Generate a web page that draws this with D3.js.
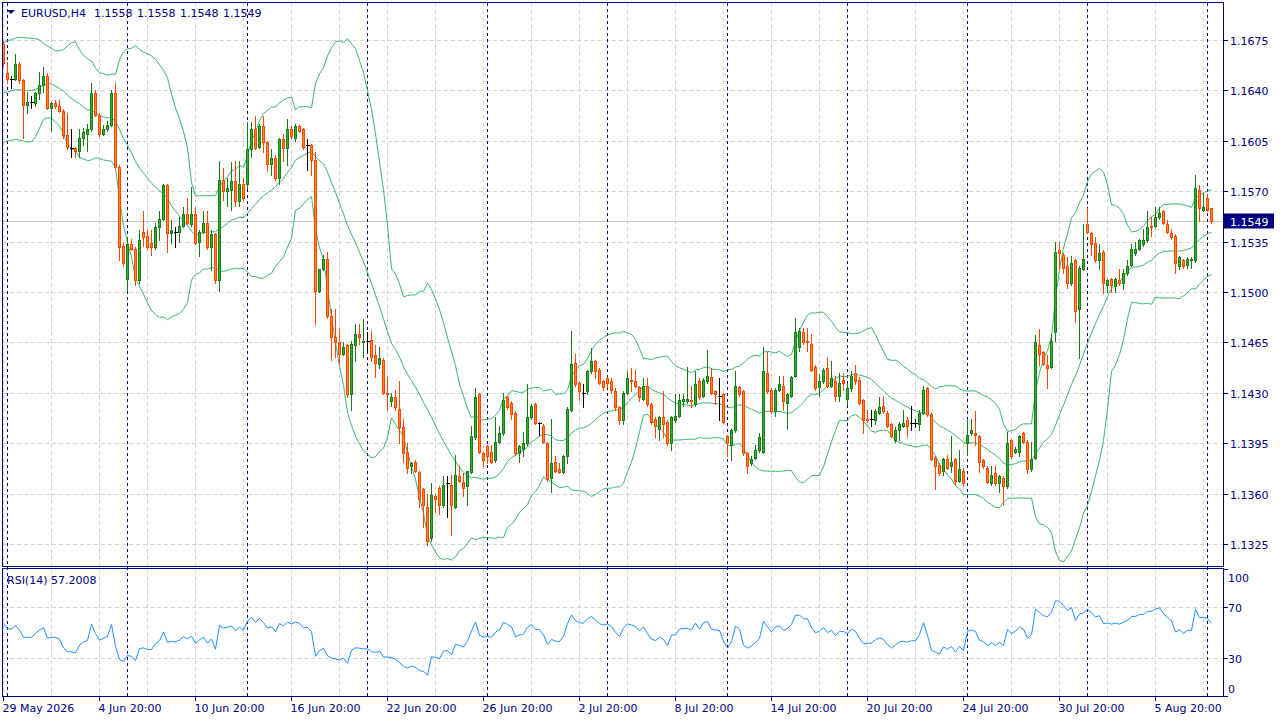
<!DOCTYPE html>
<html><head><meta charset="utf-8">
<script src="https://cdn.jsdelivr.net/npm/d3@7"></script>
<style>
html,body{margin:0;padding:0;background:#fff;overflow:hidden}
svg{display:block;font-family:"DejaVu Sans",sans-serif;font-size:11px}
</style>
</head><body>
<svg id="chart" width="1280" height="720"></svg>
<script>
const symbolLabel = "EURUSD,H4";
const open = [
1.1672,1.1652,1.1648,1.1648,1.1658,1.1647,1.1630,1.1632,1.1631,1.1638,
1.1644,1.1650,1.1628,1.1631,1.1629,1.1626,1.1609,1.1600,1.1600,1.1598,
1.1607,1.1610,1.1613,1.1638,1.1623,1.1610,1.1613,1.1616,1.1638,1.1587,
1.1532,1.1509,1.1533,1.1530,1.1508,1.1542,1.1539,1.1534,1.1531,1.1545,
1.1551,1.1574,1.1541,1.1542,1.1542,1.1546,1.1554,1.1547,1.1554,1.1535,
1.1542,1.1548,1.1531,1.1540,1.1508,1.1578,1.1570,1.1571,1.1577,1.1563,
1.1575,1.1575,1.1599,1.1613,1.1601,1.1615,1.1604,1.1589,1.1593,1.1579,
1.1606,1.1600,1.1613,1.1607,1.1615,1.1613,1.1602,1.1602,1.1592,1.1501,
1.1516,1.1523,1.1483,1.1469,1.1465,1.1457,1.1463,1.1429,1.1463,1.1471,
1.1465,1.1466,1.1467,1.1456,1.1450,1.1453,1.1430,1.1424,1.1427,1.1419,
1.1406,1.1389,1.1379,1.1382,1.1375,1.1363,1.1351,1.1329,1.1358,1.1364,
1.1352,1.1367,1.1366,1.1351,1.1372,1.1368,1.1365,1.1375,1.1399,1.1429,
1.1388,1.1393,1.1389,1.1383,1.1396,1.1402,1.1427,1.1423,1.1416,1.1388,
1.1391,1.1395,1.1413,1.1422,1.1409,1.1407,1.1395,1.1371,1.1382,1.1377,
1.1375,1.1386,1.1418,1.1451,1.1437,1.1430,1.1431,1.1445,1.1452,1.1446,
1.1438,1.1440,1.1438,1.1431,1.1420,1.1411,1.1430,1.1439,1.1438,1.1434,
1.1426,1.1435,1.1422,1.1412,1.1405,1.1413,1.1410,1.1395,1.1411,1.1414,
1.1424,1.1424,1.1425,1.1422,1.1438,1.1428,1.1438,1.1441,1.1431,1.1428,
1.1429,1.1400,1.1394,1.1404,1.1434,1.1431,1.1388,1.1381,1.1385,1.1390,
1.1389,1.1444,1.1432,1.1417,1.1432,1.1435,1.1423,1.1428,1.1442,1.1462,
1.1472,1.1466,1.1464,1.1448,1.1434,1.1438,1.1447,1.1435,1.1438,1.1428,
1.1439,1.1426,1.1433,1.1444,1.1439,1.1425,1.1412,1.1412,1.1411,1.1416,
1.1421,1.1416,1.1408,1.1397,1.1404,1.1407,1.1411,1.1409,1.1409,1.1408,
1.1416,1.1433,1.1415,1.1385,1.1380,1.1376,1.1384,1.1379,1.1384,1.1369,
1.1376,1.1395,1.1402,1.1402,1.1400,1.1383,1.1378,1.1367,1.1374,1.1367,
1.1371,1.1365,1.1397,1.1389,1.1389,1.1402,1.1396,1.1377,1.1385,1.1463,
1.1458,1.1449,1.1448,1.1472,1.1529,1.1526,1.1518,1.1506,1.1522,1.1488,
1.1516,1.1547,1.1541,1.1534,1.1522,1.1528,1.1505,1.1509,1.1504,1.1508,
1.1506,1.1513,1.1519,1.1527,1.1530,1.1533,1.1536,1.1546,1.1546,1.1552,
1.1556,1.1547,1.1541,1.1539,1.1518,1.1522,1.1519,1.1522,1.1522,1.1571,
1.1557,1.1565,1.1558];
const high = [
1.1674,1.1660,1.1650,1.1665,1.1660,1.1648,1.1639,1.1636,1.1639,1.1653,
1.1656,1.1652,1.1632,1.1633,1.1633,1.1627,1.1624,1.1613,1.1601,1.1613,
1.1614,1.1617,1.1645,1.1640,1.1624,1.1616,1.1619,1.1640,1.1645,1.1588,
1.1534,1.1538,1.1537,1.1531,1.1543,1.1556,1.1543,1.1543,1.1548,1.1556,
1.1575,1.1575,1.1550,1.1545,1.1552,1.1559,1.1565,1.1573,1.1559,1.1543,
1.1556,1.1556,1.1543,1.1541,1.1591,1.1586,1.1579,1.1590,1.1591,1.1591,
1.1579,1.1618,1.1618,1.1622,1.1617,1.1622,1.1605,1.1599,1.1595,1.1607,
1.1610,1.1620,1.1615,1.1617,1.1616,1.1614,1.1606,1.1603,1.1597,1.1516,
1.1526,1.1528,1.1488,1.1488,1.1474,1.1465,1.1464,1.1466,1.1478,1.1478,
1.1481,1.1472,1.1473,1.1463,1.1462,1.1454,1.1441,1.1430,1.1432,1.1438,
1.1412,1.1395,1.1382,1.1383,1.1376,1.1364,1.1360,1.1367,1.1360,1.1365,
1.1372,1.1372,1.1373,1.1387,1.1379,1.1374,1.1376,1.1407,1.1433,1.1430,
1.1389,1.1394,1.1394,1.1413,1.1407,1.1430,1.1428,1.1424,1.1417,1.1394,
1.1403,1.1436,1.1422,1.1423,1.1410,1.1408,1.1396,1.1412,1.1386,1.1381,
1.1387,1.1420,1.1473,1.1457,1.1438,1.1436,1.1446,1.1461,1.1453,1.1447,
1.1439,1.1441,1.1440,1.1433,1.1421,1.1431,1.1445,1.1447,1.1446,1.1435,
1.1440,1.1440,1.1423,1.1413,1.1414,1.1431,1.1411,1.1414,1.1429,1.1429,
1.1429,1.1448,1.1435,1.1445,1.1440,1.1440,1.1460,1.1447,1.1432,1.1440,
1.1430,1.1401,1.1405,1.1445,1.1435,1.1432,1.1389,1.1386,1.1394,1.1402,
1.1462,1.1458,1.1433,1.1433,1.1442,1.1442,1.1430,1.1442,1.1482,1.1475,
1.1475,1.1475,1.1471,1.1449,1.1443,1.1447,1.1455,1.1452,1.1442,1.1444,
1.1444,1.1437,1.1445,1.1449,1.1441,1.1426,1.1418,1.1418,1.1419,1.1427,
1.1428,1.1417,1.1409,1.1406,1.1410,1.1418,1.1413,1.1421,1.1412,1.1418,
1.1435,1.1434,1.1416,1.1386,1.1381,1.1385,1.1387,1.1400,1.1385,1.1390,
1.1378,1.1412,1.1412,1.1417,1.1401,1.1384,1.1379,1.1379,1.1379,1.1373,
1.1372,1.1403,1.1398,1.1392,1.1401,1.1403,1.1397,1.1396,1.1470,1.1474,
1.1459,1.1456,1.1471,1.1535,1.1535,1.1527,1.1524,1.1525,1.1523,1.1518,
1.1547,1.1558,1.1542,1.1538,1.1533,1.1529,1.1509,1.1510,1.1510,1.1516,
1.1516,1.1522,1.1533,1.1535,1.1537,1.1544,1.1556,1.1552,1.1559,1.1559,
1.1557,1.1550,1.1544,1.1540,1.1525,1.1523,1.1524,1.1524,1.1581,1.1574,
1.1569,1.1568,1.1558];
const low = [
1.1657,1.1645,1.1642,1.1647,1.1645,1.1607,1.1624,1.1628,1.1629,1.1634,
1.1639,1.1627,1.1612,1.1628,1.1625,1.1607,1.1599,1.1594,1.1594,1.1594,
1.1602,1.1598,1.1612,1.1622,1.1608,1.1609,1.1612,1.1615,1.1586,1.1522,
1.1518,1.1501,1.1529,1.1505,1.1506,1.1532,1.1530,1.1526,1.1530,1.1536,
1.1550,1.1528,1.1534,1.1531,1.1535,1.1545,1.1547,1.1546,1.1533,1.1525,
1.1541,1.1530,1.1515,1.1506,1.1501,1.1564,1.1560,1.1557,1.1560,1.1560,
1.1564,1.1572,1.1594,1.1599,1.1600,1.1597,1.1584,1.1581,1.1578,1.1575,
1.1591,1.1588,1.1607,1.1605,1.1611,1.1599,1.1585,1.1581,1.1478,1.1500,
1.1515,1.1482,1.1453,1.1455,1.1450,1.1456,1.1427,1.1418,1.1452,1.1464,
1.1455,1.1460,1.1452,1.1441,1.1447,1.1429,1.1418,1.1421,1.1418,1.1395,
1.1382,1.1374,1.1374,1.1375,1.1351,1.1337,1.1324,1.1327,1.1347,1.1346,
1.1351,1.1344,1.1331,1.1350,1.1368,1.1358,1.1352,1.1374,1.1398,1.1388,
1.1379,1.1381,1.1381,1.1382,1.1395,1.1401,1.1419,1.1412,1.1387,1.1382,
1.1386,1.1394,1.1412,1.1408,1.1401,1.1395,1.1369,1.1361,1.1375,1.1374,
1.1374,1.1381,1.1417,1.1435,1.1425,1.1420,1.1429,1.1444,1.1440,1.1436,
1.1432,1.1434,1.1430,1.1418,1.1408,1.1408,1.1429,1.1431,1.1434,1.1424,
1.1425,1.1421,1.1408,1.1399,1.1397,1.1399,1.1394,1.1390,1.1410,1.1413,
1.1421,1.1423,1.1420,1.1421,1.1426,1.1427,1.1437,1.1429,1.1422,1.1411,
1.1409,1.1386,1.1383,1.1403,1.1428,1.1387,1.1374,1.1380,1.1384,1.1389,
1.1388,1.1430,1.1416,1.1414,1.1431,1.1418,1.1405,1.1427,1.1441,1.1459,
1.1464,1.1459,1.1445,1.1432,1.1428,1.1437,1.1434,1.1434,1.1424,1.1424,
1.1432,1.1422,1.1431,1.1436,1.1422,1.1402,1.1410,1.1407,1.1408,1.1415,
1.1416,1.1406,1.1399,1.1396,1.1397,1.1406,1.1400,1.1404,1.1406,1.1404,
1.1415,1.1414,1.1383,1.1363,1.1373,1.1373,1.1377,1.1375,1.1366,1.1368,
1.1366,1.1387,1.1401,1.1394,1.1375,1.1378,1.1367,1.1366,1.1366,1.1361,
1.1352,1.1364,1.1385,1.1388,1.1386,1.1395,1.1374,1.1376,1.1384,1.1449,
1.1449,1.1433,1.1447,1.1466,1.1516,1.1513,1.1503,1.1505,1.1479,1.1454,
1.1515,1.1541,1.1526,1.1521,1.1516,1.1499,1.1500,1.1500,1.1500,1.1505,
1.1502,1.1512,1.1518,1.1526,1.1529,1.1532,1.1535,1.1539,1.1545,1.1551,
1.1547,1.1541,1.1537,1.1513,1.1516,1.1517,1.1517,1.1517,1.1521,1.1549,
1.1556,1.1556,1.1548];
const close = [
1.1659,1.1648,1.1648,1.1658,1.1647,1.1630,1.1632,1.1632,1.1638,1.1644,
1.1650,1.1628,1.1631,1.1629,1.1626,1.1609,1.1601,1.1600,1.1598,1.1607,
1.1611,1.1613,1.1638,1.1623,1.1610,1.1613,1.1616,1.1638,1.1587,1.1531,
1.1520,1.1533,1.1530,1.1508,1.1536,1.1538,1.1531,1.1531,1.1545,1.1551,
1.1574,1.1541,1.1543,1.1542,1.1546,1.1554,1.1548,1.1554,1.1534,1.1542,
1.1548,1.1531,1.1540,1.1508,1.1578,1.1570,1.1572,1.1577,1.1563,1.1575,
1.1565,1.1599,1.1613,1.1600,1.1615,1.1604,1.1589,1.1593,1.1579,1.1606,
1.1600,1.1613,1.1608,1.1615,1.1612,1.1601,1.1602,1.1592,1.1501,1.1516,
1.1523,1.1483,1.1469,1.1465,1.1457,1.1462,1.1429,1.1464,1.1471,1.1469,
1.1466,1.1466,1.1455,1.1451,1.1454,1.1430,1.1429,1.1427,1.1420,1.1406,
1.1388,1.1378,1.1381,1.1376,1.1356,1.1352,1.1327,1.1359,1.1356,1.1352,
1.1366,1.1367,1.1352,1.1373,1.1369,1.1364,1.1376,1.1400,1.1427,1.1389,
1.1383,1.1386,1.1382,1.1396,1.1402,1.1425,1.1420,1.1415,1.1388,1.1393,
1.1395,1.1413,1.1421,1.1409,1.1409,1.1396,1.1370,1.1381,1.1376,1.1375,
1.1386,1.1419,1.1450,1.1436,1.1431,1.1430,1.1445,1.1452,1.1445,1.1437,
1.1434,1.1437,1.1432,1.1420,1.1411,1.1430,1.1440,1.1438,1.1435,1.1427,
1.1435,1.1422,1.1410,1.1407,1.1413,1.1408,1.1395,1.1413,1.1414,1.1425,
1.1426,1.1426,1.1424,1.1436,1.1427,1.1439,1.1442,1.1430,1.1429,1.1428,
1.1410,1.1395,1.1404,1.1435,1.1429,1.1388,1.1379,1.1384,1.1390,1.1399,
1.1445,1.1431,1.1417,1.1432,1.1436,1.1424,1.1429,1.1441,1.1472,1.1473,
1.1465,1.1465,1.1446,1.1433,1.1438,1.1446,1.1435,1.1440,1.1428,1.1437,
1.1437,1.1433,1.1442,1.1438,1.1423,1.1411,1.1411,1.1412,1.1417,1.1420,
1.1417,1.1407,1.1400,1.1404,1.1408,1.1409,1.1407,1.1409,1.1409,1.1416,
1.1432,1.1415,1.1384,1.1379,1.1374,1.1384,1.1378,1.1382,1.1369,1.1377,
1.1367,1.1401,1.1404,1.1401,1.1382,1.1379,1.1368,1.1373,1.1367,1.1372,
1.1365,1.1395,1.1386,1.1391,1.1400,1.1396,1.1377,1.1384,1.1465,1.1457,
1.1450,1.1447,1.1466,1.1528,1.1527,1.1517,1.1506,1.1520,1.1487,1.1517,
1.1523,1.1542,1.1533,1.1522,1.1527,1.1506,1.1508,1.1505,1.1509,1.1506,
1.1513,1.1518,1.1530,1.1530,1.1536,1.1536,1.1545,1.1545,1.1552,1.1555,
1.1548,1.1542,1.1538,1.1520,1.1524,1.1518,1.1523,1.1523,1.1572,1.1558,
1.1559,1.1557,1.1549];

// Bollinger band values for the first bars (before a full 20-bar window exists)
const bbUpperHead = [1.16731,1.16745,1.16754,1.16763,1.16768,1.16768,1.16763,1.16763,1.16759,1.16750,1.16726,1.16708,1.16692,1.16675,1.16675,1.16685,1.16708,1.16731,1.16738];
const bbMidHead   = [1.16384,1.16391,1.16398,1.16402,1.16405,1.16402,1.16398,1.16400,1.16407,1.16421,1.16437,1.16449,1.16444,1.16430,1.16414,1.16395,1.16368,1.16344,1.16324];
const bbLowerHead = [1.16037,1.16050,1.16055,1.16060,1.16055,1.16048,1.16041,1.16043,1.16078,1.16136,1.16199,1.16212,1.16206,1.16182,1.16152,1.16101,1.16020,1.15997,1.15981];
// RSI values for the first bars
const rsiHead = [57.2,52.8,52.8,55.4,52.0,46.2,46.2,46.2,49.3,52.0,53.8,45.4,46.2,46.2];

const bbPeriod = 20, bbDev = 2, rsiPeriod = 14;
const rsiLabel = "RSI(14) 57.2008";
const priceTicks = [1.1675,1.1640,1.1605,1.1570,1.1535,1.1500,1.1465,1.1430,1.1395,1.1360,1.1325];
const rsiTicks = [100,70,30,0];
const rsiGridLevels = [70,30];
const timeLabels = ["29 May 2026","4 Jun 20:00","10 Jun 20:00","16 Jun 20:00","22 Jun 20:00","26 Jun 20:00","2 Jul 20:00","8 Jul 20:00","14 Jul 20:00","20 Jul 20:00","24 Jul 20:00","30 Jul 20:00","5 Aug 20:00"];
const timeLabelBars = [0,24,48,72,96,120,144,168,192,216,240,264,288];
const separatorBars = [1,31,61,91,121,151,181,211,241,271,301];
const gridBars = [0,12,24,36,48,60,72,84,96,108,120,132,144,156,168,180,192,204,216,228,240,252,264,276,288,300];

// ---------- derived indicators ----------
const N = close.length;
const bbU = [], bbM = [], bbL = [];
for (let i = 0; i < N; i++) {
  if (i < bbPeriod - 1) { bbU.push(bbUpperHead[i]); bbM.push(bbMidHead[i]); bbL.push(bbLowerHead[i]); continue; }
  const w = close.slice(i - bbPeriod + 1, i + 1);
  const m = d3.mean(w);
  const sd = Math.sqrt(d3.sum(w, v => (v - m) * (v - m)) / bbPeriod);
  bbM.push(m); bbU.push(m + bbDev * sd); bbL.push(m - bbDev * sd);
}
const rsi = rsiHead.slice();
{
  const k = rsiHead.length - 1;
  let tot = 0;
  for (let j = 1; j <= k; j++) tot += Math.abs(close[j] - close[j - 1]);
  tot /= k;
  let ag = tot * rsiHead[k] / 100, al = tot * (1 - rsiHead[k] / 100);
  for (let i = k + 1; i < N; i++) {
    const ch = close[i] - close[i - 1];
    ag = (ag * (rsiPeriod - 1) + Math.max(ch, 0)) / rsiPeriod;
    al = (al * (rsiPeriod - 1) + Math.max(-ch, 0)) / rsiPeriod;
    rsi.push(al === 0 ? 100 : 100 - 100 / (1 + ag / al));
  }
}

// ---------- drawing ----------
const NAVY = "#000080", GRID = "#d3d3d3";
const BULL_FILL = "#2fae2f", BULL_LINE = "#1a7d1a";
const BEAR_FILL = "#ff8c1a", BEAR_LINE = "#ff4500";
const svg = d3.select("#chart");
svg.append("rect").attr("width", 1280).attr("height", 720).attr("fill", "#fff");

const x = d3.scaleLinear().domain([0, N - 1]).range([3.5, 3.5 + 4 * (N - 1)]);
const y = d3.scaleLinear().domain([1.13097, 1.17007]).range([566, 3]);
const yR = d3.scaleLinear().domain([0, 100]).range([696, 569]);
const px = v => Math.round(v) + 0.5;

const g = svg.append("g").attr("shape-rendering", "crispEdges");

// grid
g.selectAll(".hg").data(priceTicks).join("line")
  .attr("x1", 3).attr("x2", 1223).attr("y1", d => px(y(d))).attr("y2", d => px(y(d)))
  .attr("stroke", GRID).attr("stroke-dasharray", "4,3");
g.selectAll(".hr").data(rsiGridLevels).join("line")
  .attr("x1", 3).attr("x2", 1223).attr("y1", d => px(yR(d))).attr("y2", d => px(yR(d)))
  .attr("stroke", GRID).attr("stroke-dasharray", "4,3");
gridBars.forEach(b => {
  [[3, 566], [569, 696]].forEach(([a, z]) => {
    g.append("line").attr("x1", x(b)).attr("x2", x(b)).attr("y1", a).attr("y2", z)
      .attr("stroke", GRID).attr("stroke-dasharray", "4,3");
  });
});

// current price line
g.append("line").attr("x1", 3).attr("x2", 1223)
  .attr("y1", px(y(close[N - 1]))).attr("y2", px(y(close[N - 1])))
  .attr("stroke", "#c8c8c8");

// period separators
g.selectAll(".sep").data(separatorBars).join("line")
  .attr("x1", d => x(d)).attr("x2", d => x(d)).attr("y1", 3).attr("y2", 696)
  .attr("stroke", NAVY).attr("stroke-dasharray", "3,3");

// Bollinger bands
const idx = d3.range(N);
[bbU, bbM, bbL].forEach(arr => {
  svg.append("path").datum(idx)
    .attr("d", d3.line().x(i => x(i)).y(i => y(arr[i])))
    .attr("fill", "none").attr("stroke", "#3cb371").attr("stroke-width", 1);
});

// candles
const cg = svg.append("g").attr("shape-rendering", "crispEdges");
idx.forEach(i => {
  const o = open[i], c = close[i];
  const dir = c > o ? 1 : (c < o ? -1 : 0);
  const lineCol = dir > 0 ? BULL_LINE : (dir < 0 ? BEAR_LINE : "#000");
  cg.append("line").attr("x1", x(i)).attr("x2", x(i))
    .attr("y1", Math.round(y(high[i]))).attr("y2", Math.round(y(low[i])) + 1)
    .attr("stroke", lineCol);
  if (dir === 0) {
    cg.append("line").attr("x1", x(i) - 1.5).attr("x2", x(i) + 2.5)
      .attr("y1", px(y(o))).attr("y2", px(y(o))).attr("stroke", "#000");
  } else {
    const top = Math.round(y(Math.max(o, c))), bot = Math.round(y(Math.min(o, c)));
    cg.append("rect").attr("x", x(i) - 1).attr("width", 2)
      .attr("y", top + 0.5).attr("height", Math.max(bot - top, 1))
      .attr("fill", dir > 0 ? BULL_FILL : BEAR_FILL).attr("stroke", lineCol);
  }
});

// RSI line
svg.append("path").datum(idx)
  .attr("d", d3.line().x(i => x(i)).y(i => yR(rsi[i])))
  .attr("fill", "none").attr("stroke", "#1e90ff").attr("stroke-width", 1);

// frames
const fg = svg.append("g").attr("shape-rendering", "crispEdges");
fg.append("rect").attr("x", 2.5).attr("y", 2.5).attr("width", 1221).attr("height", 564)
  .attr("fill", "none").attr("stroke", NAVY);
fg.append("rect").attr("x", 2.5).attr("y", 568.5).attr("width", 1221).attr("height", 128)
  .attr("fill", "none").attr("stroke", NAVY);

// price axis
const ax = svg.append("g");
priceTicks.forEach(p => {
  const yy = px(y(p));
  fg.append("line").attr("x1", 1224).attr("x2", 1228).attr("y1", yy).attr("y2", yy).attr("stroke", NAVY);
  ax.append("text").attr("x", 1230).attr("y", yy + 4).attr("fill", NAVY).text(p.toFixed(4));
});
// current price marker
{
  const yy = px(y(close[N - 1]));
  ax.append("rect").attr("x", 1224).attr("y", yy - 8).attr("width", 50).attr("height", 15).attr("fill", NAVY);
  ax.append("text").attr("x", 1230).attr("y", yy + 4).attr("fill", "#fff").text(close[N - 1].toFixed(4));
}
// RSI axis
rsiTicks.forEach(v => {
  const yy = px(yR(v));
  fg.append("line").attr("x1", 1224).attr("x2", 1228).attr("y1", yy).attr("y2", yy).attr("stroke", NAVY);
  const ty = v === 100 ? yy + 12 : (v === 0 ? yy - 4 : yy + 4);
  ax.append("text").attr("x", 1228).attr("y", ty).attr("fill", NAVY).text(v);
});
// time axis
timeLabelBars.forEach((b, k) => {
  fg.append("line").attr("x1", x(b)).attr("x2", x(b)).attr("y1", 697).attr("y2", 701).attr("stroke", NAVY);
  ax.append("text").attr("x", x(b) - 1).attr("y", 712).attr("fill", NAVY).text(timeLabels[k]);
});

// header
svg.append("path").attr("d", "M7,10 L15,10 L11,14 Z").attr("fill", NAVY);
ax.append("text").attr("x", 21).attr("y", 17).attr("fill", NAVY).text(symbolLabel);
[open[N - 1], high[N - 1], low[N - 1], close[N - 1]].forEach((v, k) => {
  ax.append("text").attr("x", 94 + 43 * k).attr("y", 17).attr("fill", NAVY).text(v.toFixed(4));
});
ax.append("text").attr("x", 7).attr("y", 584).attr("fill", NAVY).text(rsiLabel);
</script>
</body></html>
